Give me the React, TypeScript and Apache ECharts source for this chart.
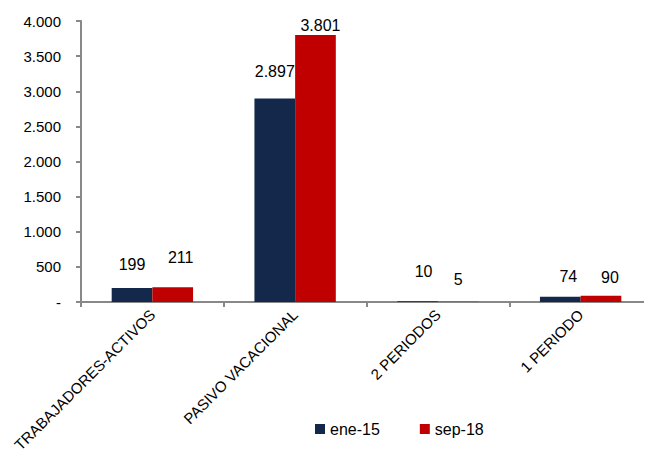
import React, { useEffect, useRef } from "react";
import * as echarts from "echarts";

const categories = ["TRABAJADORES-ACTIVOS", "PASIVO VACACIONAL", "2 PERIODOS", "1 PERIODO"];
const ene15 = [199, 2897, 10, 74];
const sep18 = [211, 3801, 5, 90];
const seriesNames = ["ene-15", "sep-18"];

// label nudges (style only) [dx, dy]
const eneLabelOffsets = [[0, -12], [0, -15], [6, -18], [8, -8]];
const sepLabelOffsets = [[8, -18], [5, 3], [0, -10], [9, -6]];

const fmt = (v: number) => {
  if (v === 0) return "-";
  return String(v).replace(/\B(?=(\d{3})+(?!\d))/g, ".");
};

export default function App() {
  const ref = useRef<HTMLDivElement>(null);
  useEffect(() => {
    if (!ref.current) return;
    const chart = echarts.init(ref.current, undefined, { renderer: "svg" });
    const mk = (vals: number[], offs: number[][]) =>
      vals.map((v, i) => ({ value: v, label: { offset: offs[i] } }));
    chart.setOption({
      animation: false,
      textStyle: { fontFamily: "Liberation Sans, Arial, sans-serif" },
      grid: { left: 81, right: 0, top: 21, bottom: 158, containLabel: false, outerBoundsMode: "none" },
      legend: {
        bottom: 18,
        left: 310,
        itemWidth: 10,
        itemHeight: 10,
        itemGap: 40,
        icon: "rect",
        textStyle: { fontSize: 16, color: "#000", fontFamily: "Liberation Sans, Arial, sans-serif" },
        data: seriesNames,
      },
      xAxis: {
        type: "category",
        data: categories,
        axisLine: { lineStyle: { color: "#888", width: 2 } },
        axisTick: { show: true, length: 5, lineStyle: { color: "#888", width: 2 } },
        axisLabel: { rotate: 45, fontSize: 15, color: "#000", margin: 10, interval: 0 },
      },
      yAxis: {
        type: "value",
        min: 0,
        max: 4000,
        interval: 500,
        axisLine: { show: true, lineStyle: { color: "#888", width: 2 } },
        axisTick: { show: true, length: 5, lineStyle: { color: "#888", width: 2 } },
        splitLine: { show: false },
        axisLabel: { fontSize: 15, color: "#000", margin: 20, formatter: (v: number) => fmt(v) },
      },
      series: [
        {
          name: seriesNames[0],
          type: "bar",
          data: mk(ene15, eneLabelOffsets),
          barGap: "0%",
          barCategoryGap: "43%",
          itemStyle: { color: "#13284A" },
          label: { show: true, position: "top", distance: 4, fontSize: 16, color: "#000", formatter: (p: any) => fmt(p.value) },
        },
        {
          name: seriesNames[1],
          type: "bar",
          data: mk(sep18, sepLabelOffsets),
          barGap: "0%",
          barCategoryGap: "43%",
          itemStyle: { color: "#C00000" },
          label: { show: true, position: "top", distance: 4, fontSize: 16, color: "#000", formatter: (p: any) => fmt(p.value) },
        },
      ],
    });
    return () => chart.dispose();
  }, []);
  return <div ref={ref} style={{ width: 652, height: 460, margin: -8 }} />;
}
